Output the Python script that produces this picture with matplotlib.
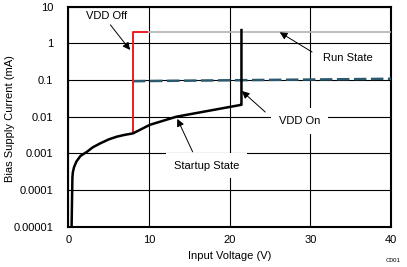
import numpy as np
import matplotlib.pyplot as plt

plt.rcParams['font.family'] = ['Liberation Sans', 'DejaVu Sans']

# startup curve (black)
startup_v = [0.4, 0.45, 0.5, 0.55, 0.7, 1.0, 1.5, 2.3, 3.0, 3.9, 5.0, 6.0, 7.0, 8.0,
             10.1, 13.4, 21.4, 21.45, 21.45]
startup_i = [1e-5, 5e-5, 2.2e-4, 3e-4, 4.2e-4, 6e-4, 8.5e-4, 1.1e-3, 1.45e-3, 1.85e-3,
             2.4e-3, 2.85e-3, 3.2e-3, 3.5e-3, 6e-3, 1e-2, 2.1e-2, 2.1e-2, 2.3]
# VDD off (red)
off_v = [8.0, 8.0, 9.8]
off_i = [3.5e-3, 2.05, 2.05]
# run state (gray)
run_v = [9.8, 40]
run_i = [2.05, 2.05]
# VDD on (dashed)
on_v = [8.0, 40]
on_i = [0.093, 0.108]

x_ticks = [0, 10, 20, 30, 40]
y_ticks = [1e-5, 1e-4, 1e-3, 1e-2, 1e-1, 1, 10]
y_labels = ['0.00001', '0.0001', '0.001', '0.01', '0.1', '1', '10']

fig = plt.figure(figsize=(4.07, 2.67), dpi=100)
ax = fig.add_axes([0.168, 0.151, 0.793, 0.824])

ax.set_yscale('log')
ax.set_xlim(0, 40)
ax.set_ylim(1e-5, 10)
ax.set_xticks(x_ticks)
ax.set_yticks(y_ticks)
ax.set_yticklabels(y_labels)
ax.minorticks_off()
ax.tick_params(length=0, labelsize=8, pad=6)
ax.tick_params(axis='y', pad=11)
ax.grid(True, color='black', lw=0.8)
ax.set_axisbelow(True)
for s in ax.spines.values():
    s.set_linewidth(1.5)

ax.plot(on_v, on_i, color='#2b5a6e', lw=1.8, dashes=(5, 1.8), zorder=3)
ax.plot(run_v, run_i, color='#b4b4b4', lw=1.2, zorder=3)
ax.plot(off_v, off_i, color='#ee1c1c', lw=1.4, zorder=3)
ax.plot(startup_v, startup_i, color='black', lw=1.8, zorder=4)

box = dict(boxstyle='square,pad=0.7', fc='white', ec='none')
ax.text(4.7, 5.4, 'VDD Off', fontsize=8, ha='center', va='center', zorder=5)
ax.text(34.6, 0.4, 'Run State', fontsize=8, ha='center', va='center', bbox=box, zorder=5)
ax.text(28.7, 0.0077, 'VDD On', fontsize=8, ha='center', va='center', bbox=box, zorder=5)
ax.text(17.1, 4.6e-4, 'Startup State', fontsize=8, ha='center', va='center', bbox=box, zorder=5)

arrows = [((5.2, 3.2), (7.65, 0.66)),
          ((30.2, 0.58), (26.2, 2.0)),
          ((24.4, 0.0134), (21.5, 0.05)),
          ((15.4, 1.1e-3), (13.5, 0.0087))]
for tail, head in arrows:
    ax.annotate('', xy=head, xytext=tail, zorder=6,
                arrowprops=dict(arrowstyle='-|>', color='black', lw=0.7,
                                mutation_scale=11, shrinkA=0, shrinkB=0))

ax.set_xlabel('Input Voltage (V)', fontsize=8, labelpad=4)
fig.text(0.024, 0.555, 'Bias Supply Current (mA)', fontsize=8, rotation=90,
         ha='center', va='center')
fig.text(0.985, 0.025, 'C001', fontsize=4.5, ha='right', va='center')

fig.savefig('out.png', dpi=100)
